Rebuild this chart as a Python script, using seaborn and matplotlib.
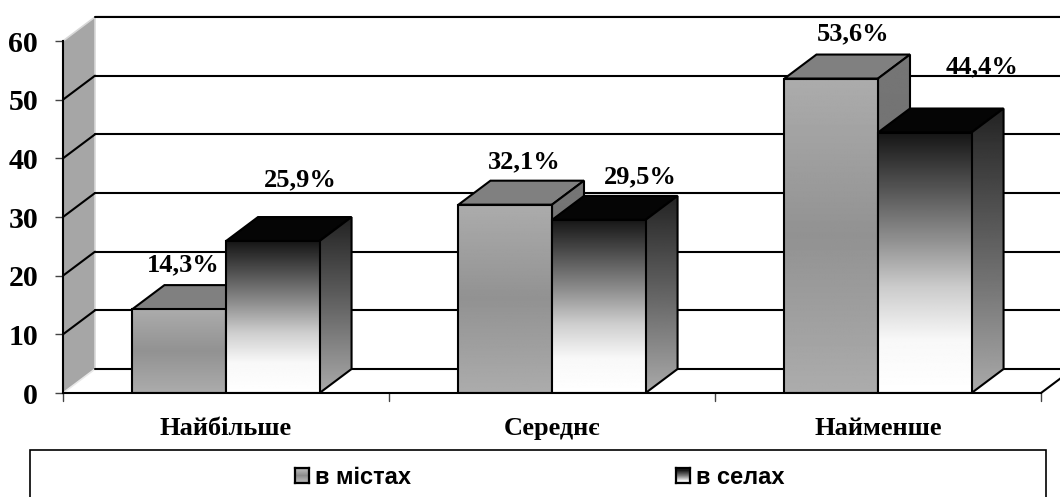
import numpy as np
import pandas as pd
import matplotlib
matplotlib.use("Agg")
import matplotlib.pyplot as plt
from matplotlib.patches import Polygon, Patch, Rectangle
import seaborn as sns

categories = ["Найбільше", "Середнє", "Найменше"]
series_names = ["в містах", "в селах"]
city_values = [14.3, 32.1, 53.6]
village_values = [25.9, 29.5, 44.4]
value_labels = [["14,3%", "32,1%", "53,6%"], ["25,9%", "29,5%", "44,4%"]]
y_ticks = [0, 10, 20, 30, 40, 50, 60]

# label offsets from bar centre / back top edge, in pixels
label_offsets = [[(4, 20), (19, 19), (22, 21)], [(28, 37), (42, 19), (57, 42)]]

W, H = 1060, 497
AX_L, AX_R, AX_T, AX_B = 63, 1041, 41, 393
DEPTH_PX, RISE_PX = 32, 24

sns.set_theme(style="white")
plt.rcParams["font.family"] = ["Liberation Serif", "DejaVu Serif"]
PT = 0.72

df = pd.DataFrame({
    "category": categories * 2,
    "series": [series_names[0]] * 3 + [series_names[1]] * 3,
    "value": city_values + village_values,
})

fig = plt.figure(figsize=(W / 100, H / 100), dpi=100, facecolor="white")
ax = fig.add_axes([AX_L / W, 1 - AX_B / H, (AX_R - AX_L) / W, (AX_B - AX_T) / H])
ax.patch.set_visible(False)
sns.barplot(data=df, x="category", y="value", hue="series", hue_order=series_names,
            order=categories, width=0.574, gap=0, legend=False, ax=ax, errorbar=None,
            saturation=1, zorder=5)
bars = [b for b in ax.patches if b.get_width() > 0][:6]
ax.set_xlim(-0.5, 2.5)
ax.set_ylim(0, 60)
dx = DEPTH_PX * 3 / (AX_R - AX_L)
dy = RISE_PX * 60 / (AX_B - AX_T)


def poly(points, face, z, edge="black", lw=1.5, clip=False):
    p = Polygon(points, closed=True, facecolor=face, edgecolor=edge, linewidth=lw, zorder=z,
                clip_on=clip, joinstyle="miter")
    ax.add_patch(p)
    return p


def gradient(stops, extent, clip_patch, z):
    vals = np.interp(np.linspace(0, 1, 256), np.linspace(0, 1, len(stops)), stops)
    im = ax.imshow(vals[:, None], extent=extent, aspect="auto", cmap="gray", vmin=0, vmax=255,
                   zorder=z, interpolation="bilinear", origin="upper")
    im.set_clip_box(None)
    im.set_clip_path(clip_patch)


# walls, floor and grid
xl, xr = ax.get_xlim()
poly([(xl, 0), (xl + dx, dy), (xl + dx, 60 + dy), (xl, 60)], "#a6a6a6", 1, edge="none", lw=0)
ax.plot([xl, xl + dx, xl + dx], [60, 60 + dy, 0 + dy], color="#d8d8d8", lw=1.2, clip_on=False, zorder=1.1)
ax.plot([xl, xl + dx], [0, dy], color="#e8e8e8", lw=1.2, clip_on=False, zorder=1.1)
for t in y_ticks:
    if t not in (0, 60):
        ax.plot([xl, xl + dx], [t, t + dy], color="black", lw=1.5, clip_on=False, zorder=2)
    ax.plot([xl + dx, xr + dx], [t + dy, t + dy], color="black", lw=1.5, clip_on=False, zorder=2)
ax.plot([xr, xr + dx], [0, dy], color="black", lw=1.5, clip_on=False, zorder=2)
ax.plot([xl + dx, xr + dx], [60 + dy + 0.2] * 2, color="#bbbbbb", lw=1, clip_on=False, zorder=1.9)

# bars: gradients painted on the seaborn rectangles
styles = [
    dict(front=[172, 146, 172], side=[118, 112, 128], top="#808080"),
    dict(front=[22, 80, 140, 205, 248, 255], side=[35, 100, 170], top="#050505"),
]
for idx, bar in enumerate(bars):
    s = idx // 3
    g = idx % 3
    st = styles[s]
    z = 5 + s
    x0, x1 = bar.get_x(), bar.get_x() + bar.get_width()
    h = bar.get_height()
    poly([(x0, h), (x0 + dx, h + dy), (x1 + dx, h + dy), (x1, h)], st["top"], z)
    side = poly([(x1, 0), (x1 + dx, dy), (x1 + dx, h + dy), (x1, h)], "none", z + 0.2)
    gradient(st["side"], (x1, x1 + dx, 0, h + dy), side, z + 0.1)
    front = poly([(x0, 0), (x0, h), (x1, h), (x1, 0)], "none", z + 0.4, edge="none", lw=0)
    gradient(st["front"], (x0, x1, 0, h), front, z + 0.3)
    bar.set_facecolor("none")
    bar.set_edgecolor("black")
    bar.set_linewidth(1.5)
    bar.set_zorder(z + 0.5)
    ox, oy = label_offsets[s][g]
    ax.annotate(value_labels[s][g], xy=((x0 + x1) / 2, h + dy), xytext=(ox * PT, oy * PT),
                textcoords="offset points", ha="center", va="center", fontsize=19,
                fontweight="bold", color="black", zorder=9, annotation_clip=False)

ax.set_xlim(xl, xr)
ax.set_ylim(0, 60)

# axes
for name in ("top", "right"):
    ax.spines[name].set_visible(False)
for name in ("left", "bottom"):
    ax.spines[name].set_visible(True)
    ax.spines[name].set_color("black")
    ax.spines[name].set_linewidth(1.5)
    ax.spines[name].set_zorder(4)
ax.spines["bottom"].set_zorder(8)
ax.set_yticks(y_ticks)
ax.set_yticklabels([str(t) for t in y_ticks], fontsize=21.5, fontweight="bold", color="black")
ax.tick_params(axis="y", left=True, length=6, width=1, color="#444444", pad=12)
ax.set_xticks([0, 1, 2])
ax.set_xticklabels(categories, fontsize=19, fontweight="bold", color="black")
ax.tick_params(axis="x", bottom=False, pad=11)
for pos in [-0.5, 0.5, 1.5, 2.5]:
    ax.plot([pos, pos], [0, -8 * 60 / (AX_B - AX_T)], color="#444444", lw=1, clip_on=False, zorder=3)
ax.set_xlim(xl, xr)
ax.set_ylim(0, 60)
ax.set_xlabel("")
ax.set_ylabel("")

# legend
fig.add_artist(Rectangle((29.5 / W, -10 / H), 1016 / W, (H + 10 - 450) / H, transform=fig.transFigure,
                         facecolor="white", edgecolor="black", linewidth=1.2))
handles = [Patch(facecolor="none", edgecolor="none", label=n) for n in series_names]
leg = fig.legend(handles=handles, loc="center left", bbox_to_anchor=(295 / W, (H - 477) / H),
                 ncol=2, frameon=False, borderpad=0, borderaxespad=0, handlelength=0.6,
                 handleheight=0.6, handletextpad=0.25, columnspacing=11.2,
                 prop={"family": "Liberation Sans", "weight": "bold", "size": 17})
for t in leg.get_texts():
    t.set_color("black")
fig.canvas.draw()
swatch_stops = [[175, 140, 175], [25, 120, 240]]
for handle, stops in zip(leg.legend_handles, swatch_stops):
    bb = handle.get_window_extent().transformed(fig.transFigure.inverted())
    a = fig.add_axes([bb.x0, bb.y0, bb.width, bb.height], zorder=10)
    a.imshow(np.array(stops)[:, None], cmap="gray", vmin=0, vmax=255, aspect="auto", interpolation="bilinear")
    a.set_xticks([])
    a.set_yticks([])
    for sp in a.spines.values():
        sp.set_color("black")
        sp.set_linewidth(1.6)
        sp.set_visible(True)

fig.savefig("out.png", dpi=100, facecolor="white")
